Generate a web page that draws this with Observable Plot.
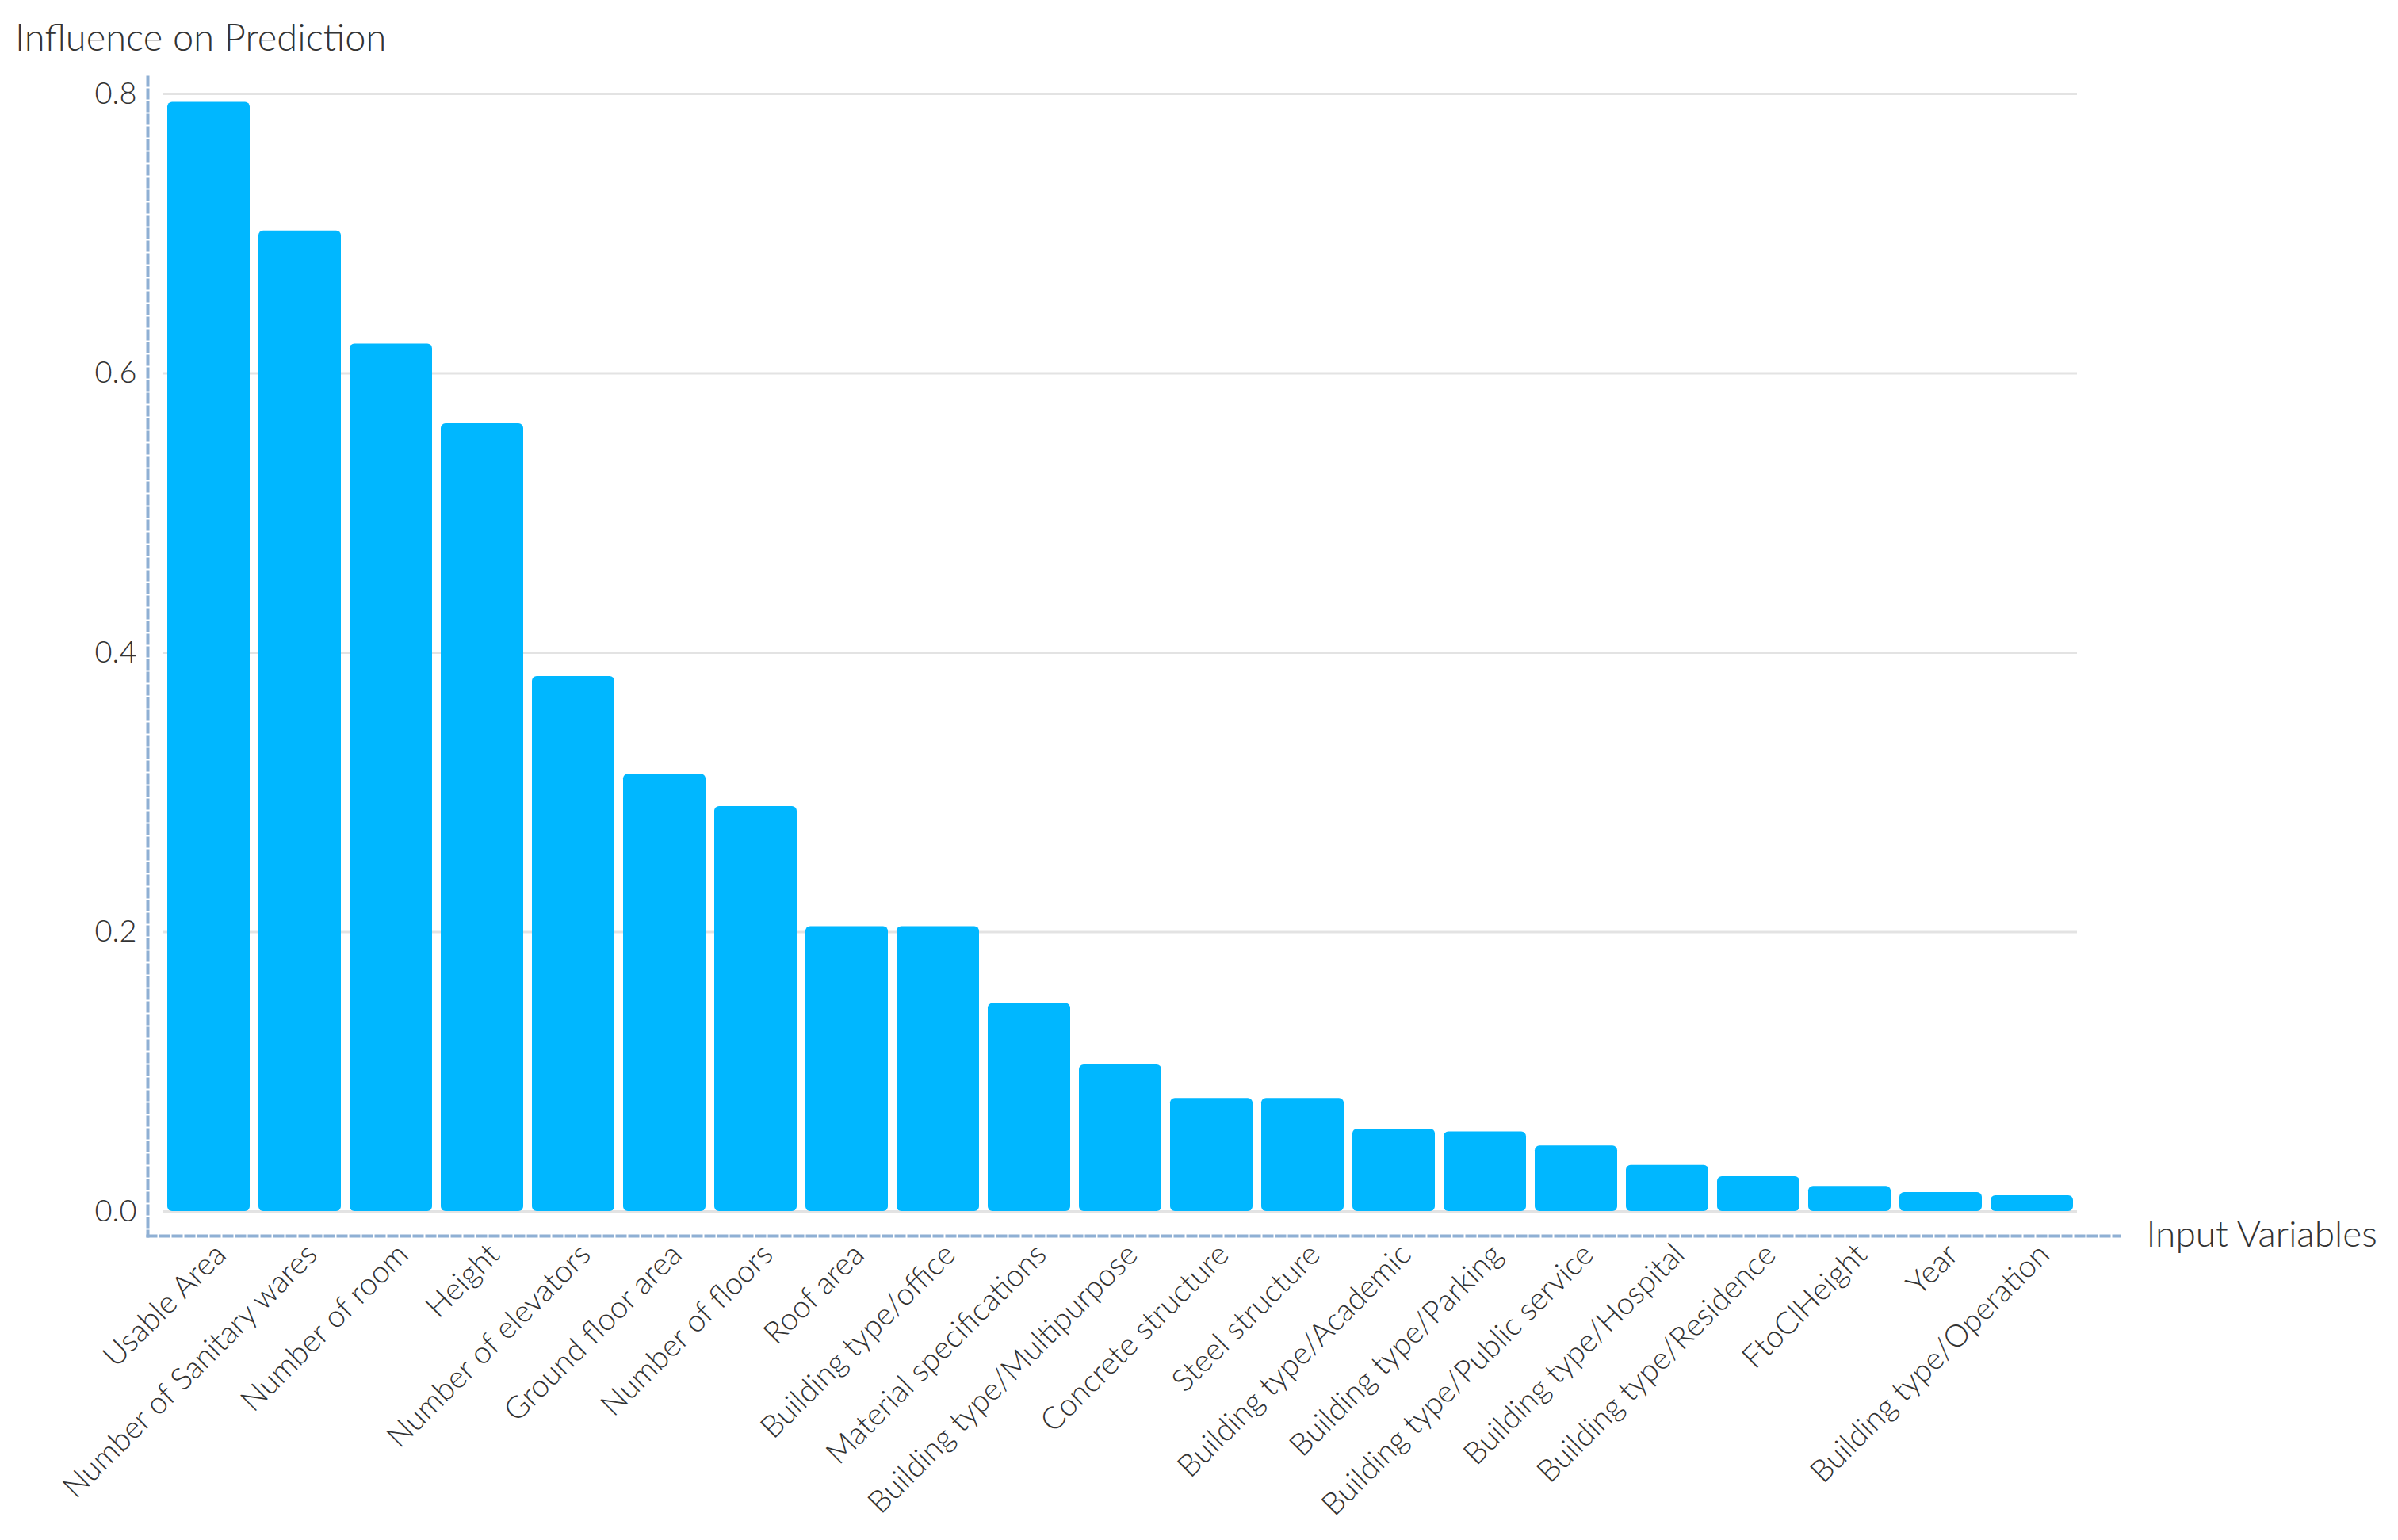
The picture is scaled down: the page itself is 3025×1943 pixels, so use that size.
<!DOCTYPE html>
<html><head><meta charset="utf-8">
<script src="https://cdn.jsdelivr.net/npm/d3@7"></script>
<script src="https://cdn.jsdelivr.net/npm/@observablehq/plot@0.6"></script>
<style>
html,body{margin:0;padding:0;background:#fff;}
#wrap{width:3025px;height:1943px;position:relative;overflow:hidden;font-family:Lato,"Noto Sans",sans-serif;}
#title{height:90px;line-height:92px;padding-left:19px;font-size:47px;font-weight:300;color:#333;white-space:nowrap;}
</style></head><body>
<div id="wrap"><div id="title">Influence on Prediction</div><div id="chart"></div></div>
<script>
const variables = [
  "Usable Area", "Number of Sanitary wares", "Number of room", "Height",
  "Number of elevators", "Ground floor area", "Number of floors", "Roof area",
  "Building type/office", "Material specifications", "Building type/Multipurpose",
  "Concrete structure", "Steel structure", "Building type/Academic",
  "Building type/Parking", "Building type/Public service", "Building type/Hospital",
  "Building type/Residence", "FtoClHeight", "Year", "Building type/Operation"
];
const influence = [
  0.794, 0.702, 0.621, 0.564, 0.383, 0.313, 0.290, 0.204, 0.204, 0.149, 0.105,
  0.081, 0.081, 0.059, 0.057, 0.047, 0.033, 0.025, 0.018, 0.0136, 0.0114
];
const yTicks = [0, 0.2, 0.4, 0.6, 0.8];
const xLabel = "Input Variables";

const data = variables.map((v, i) => ({variable: v, value: influence[i]}));

const plot = Plot.plot({
  width: 3025,
  height: 1853,
  marginTop: 28,
  marginBottom: 415,
  marginLeft: 205,
  marginRight: 405,
  style: {fontFamily: "Lato, 'Noto Sans', sans-serif", fontSize: "38px", fontWeight: 300, color: "#333", background: "#fff"},
  x: {domain: variables, paddingInner: 0.1, paddingOuter: 0.05, label: null},
  y: {domain: [0, 0.8], label: null},
  marks: [
    Plot.gridY(yTicks, {stroke: "#e3e3e3", strokeOpacity: 1, strokeWidth: 3}),
    Plot.barY(data, {x: "variable", y: "value", fill: "#00b7ff", rx: 6}),
    Plot.axisY(yTicks, {tickSize: 0, tickPadding: 33, tickFormat: d3.format(".1f"), label: null, fontSize: 38}),
    Plot.axisX({tickSize: 0, tickRotate: -45, tickPadding: 48, dx: 15, fontSize: 39, label: null}),
    Plot.frame({anchor: "left", stroke: "#8fb0d4", strokeWidth: 4, strokeDasharray: "10,6", insetLeft: -19, insetTop: -21, insetBottom: -31}),
    Plot.frame({anchor: "bottom", stroke: "#8fb0d4", strokeWidth: 4, strokeDasharray: "10,6", insetLeft: -19, insetRight: -53, insetBottom: -31}),
    Plot.text([xLabel], {frameAnchor: "bottom-right", textAnchor: "start", dx: 87, dy: 44, fontSize: 46, fill: "#333"})
  ]
});
document.getElementById("chart").appendChild(plot);
</script>
</body></html>
